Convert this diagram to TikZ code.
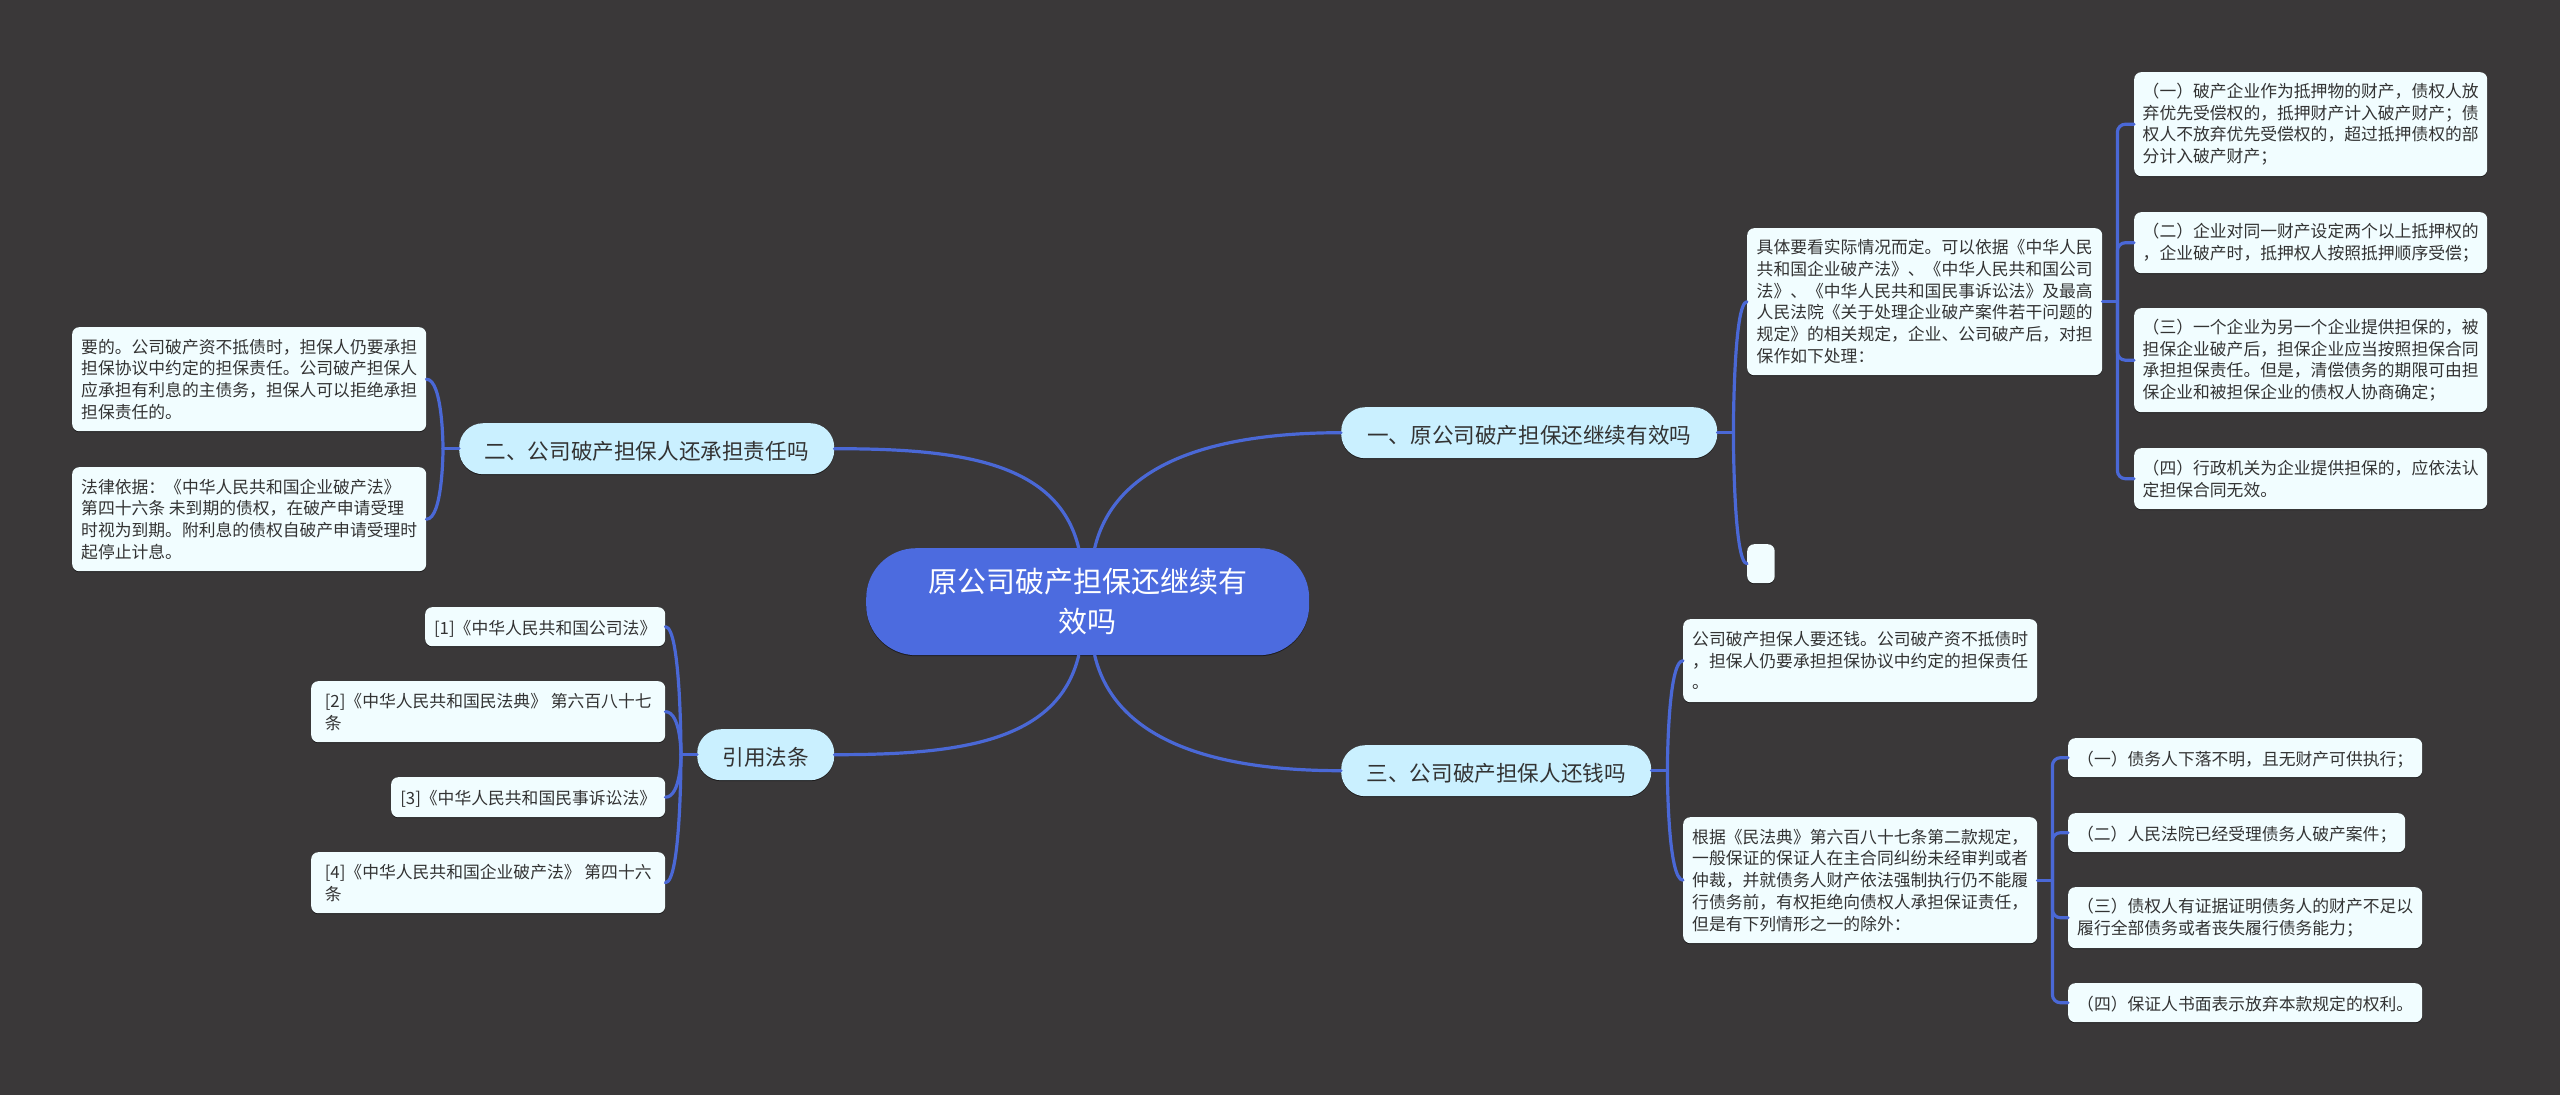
\documentclass[tikz,border=0pt]{standalone}
\usepackage{fontspec}
\setmainfont{Noto Sans CJK SC}
\usetikzlibrary{calc,shadows}
\definecolor{bgc}{HTML}{3A3839}
\definecolor{rootc}{HTML}{4C6BDF}
\definecolor{secc}{HTML}{CAF0FF}
\definecolor{leafc}{HTML}{F1FDFF}
\definecolor{linkc}{HTML}{4A68D6}
\definecolor{inkc}{HTML}{333333}

\begin{document}
\begin{tikzpicture}[
  x = 1pt, y = -1pt,
  box/.style = {anchor = north west, inner sep = 0pt, text = inkc, align = left,
    execute at begin node = {\rule{0pt}{1.07em}},
    drop shadow = {shadow xshift = 0pt, shadow yshift = -1pt, opacity = .5, fill = black}},
  rootnode/.style = {box, fill = rootc, text = white, align = center, rounded corners = 50pt,
    font = \fontsize{29}{40}\selectfont},
  secnode/.style = {box, fill = secc, rounded corners = 24pt, font = \fontsize{21.6}{28}\selectfont},
  leaf/.style = {box, fill = leafc, rounded corners = 7pt, font = \fontsize{16.8}{21.7}\selectfont},
  link/.style = {draw = linkc, line width = 3.2pt, line cap = round},
  elbow/.style = {link, rounded corners = 8pt}
  ]
  \path[use as bounding box, fill = bgc] (0,0) rectangle (2560,1095);

  \node[rootnode, minimum width = 443pt, minimum height = 107pt] (root) at (866,548) {原公司破产担保还继续有\\效吗};

  \node[secnode, minimum width = 376pt, minimum height = 51pt] (secOne) at (1341,407) {一、原公司破产担保还继续有效吗};
  \node[secnode, minimum width = 375pt, minimum height = 51pt] (secTwo) at (459,423) {二、公司破产担保人还承担责任吗};
  \node[secnode, minimum width = 310pt, minimum height = 51pt] (secThree) at (1341,745) {三、公司破产担保人还钱吗};
  \node[secnode, minimum width = 137pt, minimum height = 51pt] (secCite) at (697,729) {引用法条};

  % first branch
  \node[leaf, minimum width = 355pt, minimum height = 147pt] (oneMain) at (1747,228) {具体要看实际情况而定。可以依据《中华人民\\共和国企业破产法》、《中华人民共和国公司\\法》、《中华人民共和国民事诉讼法》及最高\\人民法院《关于处理企业破产案件若干问题的\\规定》的相关规定，企业、公司破产后，对担\\保作如下处理：};
  \node[leaf, minimum width = 27.5pt, minimum height = 39pt] (oneEmpty) at (1747,544) {};
  \node[leaf, minimum width = 353pt, minimum height = 104pt] (oneA) at (2134,72) {（一）破产企业作为抵押物的财产，债权人放\\弃优先受偿权的，抵押财产计入破产财产；债\\权人不放弃优先受偿权的，超过抵押债权的部\\分计入破产财产；};
  \node[leaf, minimum width = 353pt, minimum height = 61pt] (oneB) at (2134,212) {（二）企业对同一财产设定两个以上抵押权的\\，企业破产时，抵押权人按照抵押顺序受偿；};
  \node[leaf, minimum width = 353pt, minimum height = 104pt] (oneC) at (2134,308) {（三）一个企业为另一个企业提供担保的，被\\担保企业破产后，担保企业应当按照担保合同\\承担担保责任。但是，清偿债务的期限可由担\\保企业和被担保企业的债权人协商确定；};
  \node[leaf, minimum width = 353pt, minimum height = 61pt] (oneD) at (2134,448) {（四）行政机关为企业提供担保的，应依法认\\定担保合同无效。};

  % second branch
  \node[leaf, minimum width = 354pt, minimum height = 104pt] (twoA) at (72,327) {要的。公司破产资不抵债时，担保人仍要承担\\担保协议中约定的担保责任。公司破产担保人\\应承担有利息的主债务，担保人可以拒绝承担\\担保责任的。};
  \node[leaf, minimum width = 354pt, minimum height = 104pt] (twoB) at (72,467) {法律依据：《中华人民共和国企业破产法》\\第四十六条 未到期的债权，在破产申请受理\\时视为到期。附利息的债权自破产申请受理时\\起停止计息。};

  % third branch
  \node[leaf, minimum width = 354pt, minimum height = 83pt] (threeA) at (1683,619) {公司破产担保人要还钱。公司破产资不抵债时\\，担保人仍要承担担保协议中约定的担保责任\\。};
  \node[leaf, minimum width = 354pt, minimum height = 126pt] (threeMain) at (1683,817) {根据《民法典》第六百八十七条第二款规定，\\一般保证的保证人在主合同纠纷未经审判或者\\仲裁，并就债务人财产依法强制执行仍不能履\\行债务前，有权拒绝向债权人承担保证责任，\\但是有下列情形之一的除外：};
  \node[leaf, minimum width = 354pt, minimum height = 39pt] (threeB) at (2068,738) {（一）债务人下落不明，且无财产可供执行；};
  \node[leaf, minimum width = 337pt, minimum height = 39pt] (threeC) at (2068,813) {（二）人民法院已经受理债务人破产案件；};
  \node[leaf, minimum width = 354pt, minimum height = 61pt] (threeD) at (2068,887) {（三）债权人有证据证明债务人的财产不足以\\履行全部债务或者丧失履行债务能力；};
  \node[leaf, minimum width = 354pt, minimum height = 39pt] (threeE) at (2068,983) {（四）保证人书面表示放弃本款规定的权利。};

  % cited laws
  \node[leaf, minimum width = 240pt, minimum height = 39pt] (citeA) at (425,607) {[1]《中华人民共和国公司法》};
  \node[leaf, minimum width = 354pt, minimum height = 61pt] (citeB) at (311,681) {[2]《中华人民共和国民法典》 第六百八十七\\条};
  \node[leaf, minimum width = 274pt, minimum height = 40pt] (citeC) at (391,777) {[3]《中华人民共和国民事诉讼法》};
  \node[leaf, minimum width = 354pt, minimum height = 61pt] (citeD) at (311,852) {[4]《中华人民共和国企业破产法》 第四十六\\条};

  % from the root
  \draw[link] ([xshift = 7pt]root.north) .. controls +(21,-88) and +(-121,0) .. (secOne.west);
  \draw[link] ([xshift = -9pt]root.north) .. controls +(-21,-88) and +(121,0) .. (secTwo.east);
  \draw[link] ([xshift = 7pt]root.south) .. controls +(21,88) and +(-121,0) .. (secThree.west);
  \draw[link] ([xshift = -9pt]root.south) .. controls +(-21,88) and +(121,0) .. (secCite.east);

  % joints
  \coordinate (jOne) at ([xshift = 16pt]secOne.east);
  \coordinate (jTwo) at ([xshift = -16pt]secTwo.west);
  \coordinate (jThree) at ([xshift = 16pt]secThree.east);
  \coordinate (jCite) at ([xshift = -16pt]secCite.west);
  \coordinate (jOneMain) at ([xshift = 15pt]oneMain.east);
  \coordinate (jThreeMain) at ([xshift = 15pt]threeMain.east);

  \draw[link] (secOne.east) -- (jOne);
  \draw[link] (secTwo.west) -- (jTwo);
  \draw[link] (secThree.east) -- (jThree);
  \draw[link] (secCite.west) -- (jCite);
  \draw[link] (oneMain.east) -- (jOneMain);
  \draw[link] (threeMain.east) -- (jThreeMain);

  \foreach \j/\k in {jOne/oneMain, jOne/oneEmpty, jThree/threeA, jThree/threeMain}
    \draw[link] (\j) .. controls (\j) and (\j |- \k.west) .. (\k.west);
  \foreach \j/\k in {jTwo/twoA, jTwo/twoB, jCite/citeA, jCite/citeB, jCite/citeC, jCite/citeD}
    \draw[link] (\j) .. controls (\j) and (\j |- \k.east) .. (\k.east);
  \foreach \j/\k in {jOneMain/oneA, jOneMain/oneB, jOneMain/oneC, jOneMain/oneD,
                     jThreeMain/threeB, jThreeMain/threeC, jThreeMain/threeD, jThreeMain/threeE}
    \draw[elbow] (\j) |- (\k.west);
\end{tikzpicture}
\end{document}
